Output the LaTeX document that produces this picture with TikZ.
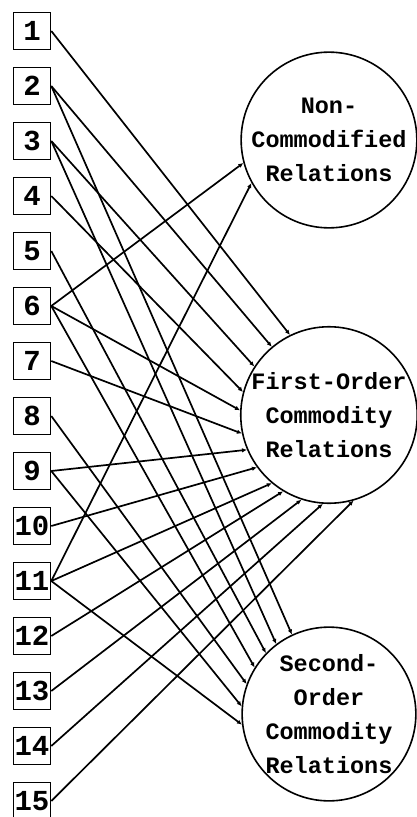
\documentclass[tikz,border=0pt]{standalone}
\usepackage{fontspec}
\setmonofont{Liberation Mono}
\usepackage{tikz}
\usetikzlibrary{arrows.meta}

\begin{document}
\begin{tikzpicture}[
  x=1pt, y=-1pt,
  numbox/.style={draw, line width=1.6pt, minimum width=37pt, minimum height=37pt, inner sep=0pt,
    font=\ttfamily\bfseries\fontsize{29}{29}\selectfont},
  relcircle/.style={draw, circle, line width=1.6pt, minimum size=172pt, inner sep=0pt, align=center,
    font=\ttfamily\bfseries\fontsize{23.5}{34}\selectfont},
  link/.style={draw, line width=1.7pt, -{Latex[length=5pt,width=4.5pt]}}
]
\useasboundingbox (0,0) rectangle (416,817);
% source boxes
\foreach \i in {1,...,15}
  \node[numbox] (n\i) at (32,{31+55*(\i-1)}) {\i};
% relation circles
\node[relcircle] (noncom) at (329,140) {Non-\\Commodified\\Relations};
\node[relcircle] (first) at (329,415) {First-Order\\Commodity\\Relations};
\node[relcircle] (second) at (329,714) {Second-\\Order\\Commodity\\Relations};
% links
\foreach \s/\a in {6/195, 11/209}
  \path[link] (n\s.east) -- (noncom.\a);
\foreach \s/\a in {1/116, 2/130, 3/147, 4/165, 6/177, 7/192, 9/203, 10/216,
                   11/230, 12/239, 13/252, 14/266, 15/286}
  \path[link] (n\s.east) -- (first.\a);
\foreach \s/\a in {2/115, 3/127, 5/136, 6/148, 8/160, 9/175, 11/187}
  \path[link] (n\s.east) -- (second.\a);
\end{tikzpicture}
\end{document}
